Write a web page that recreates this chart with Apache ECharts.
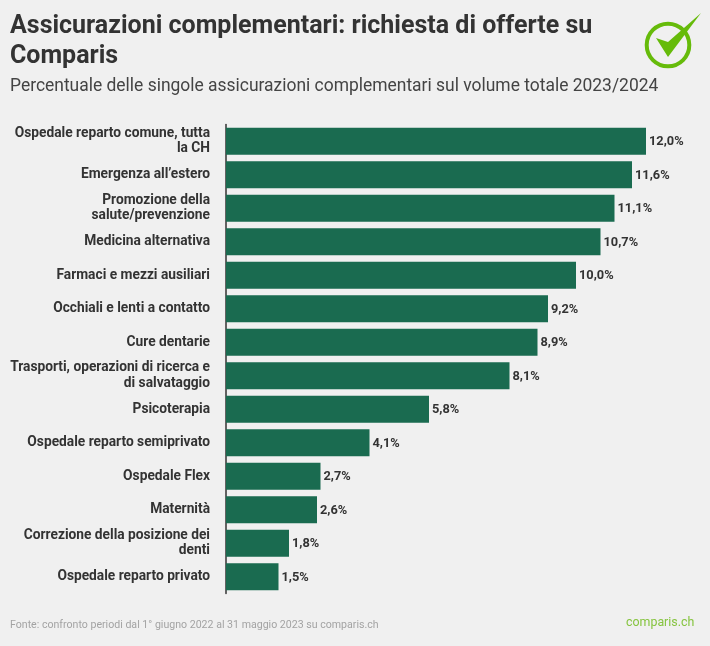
<!DOCTYPE html>
<html>
<head>
<meta charset="utf-8">
<script src="https://cdn.jsdelivr.net/npm/echarts@6/dist/echarts.min.js"></script>
<style>
html,body{margin:0;padding:0;background:#f0f0f0}
#main{width:710px;height:646px}
</style>
</head>
<body>
<div id="main"></div>
<script>
var categories = [
    'Ospedale reparto comune, tutta\nla CH',
    'Emergenza all’estero',
    'Promozione della\nsalute/prevenzione',
    'Medicina alternativa',
    'Farmaci e mezzi ausiliari',
    'Occhiali e lenti a contatto',
    'Cure dentarie',
    'Trasporti, operazioni di ricerca e\ndi salvataggio',
    'Psicoterapia',
    'Ospedale reparto semiprivato',
    'Ospedale Flex',
    'Maternità',
    'Correzione della posizione dei\ndenti',
    'Ospedale reparto privato'
]
var values = [12.0, 11.6, 11.1, 10.7, 10.0, 9.2, 8.9, 8.1, 5.8, 4.1, 2.7, 2.6, 1.8, 1.5]

var chart = echarts.init(document.getElementById('main'))
chart.setOption({
    backgroundColor: '#f0f0f0',
    animation: false,
    textStyle: { fontFamily: 'Roboto' },
    grid: { left: 226, top: 124.5, width: 437.5, height: 469 },
    xAxis: { type: 'value', min: 0, max: 12.5, show: false },
    yAxis: {
        type: 'category',
        inverse: true,
        data: categories,
        axisTick: { show: false },
        axisLine: { lineStyle: { color: '#333333', width: 1.5 } },
        axisLabel: {
            color: '#333333',
            fontSize: 13.75,
            fontWeight: 700,
            lineHeight: 15.5,
            align: 'right',
            padding: [2, 0, 0, 0],
            margin: 16
        }
    },
    series: [{
        type: 'bar',
        data: values,
        barWidth: 27,
        itemStyle: { color: '#1a6b50' },
        label: {
            show: true,
            position: 'right',
            distance: 3,
            offset: [0, 1],
            color: '#333333',
            fontSize: 12.8,
            fontWeight: 700,
            formatter: function (p) { return p.value.toFixed(1).replace('.', ',') + '%' }
        }
    }],
    graphic: [
        { type: 'text', left: 10, top: 12, style: { text: 'Assicurazioni complementari: richiesta di offerte su\nComparis', fill: '#333333', font: '700 25px Roboto', lineHeight: 30 } },
        { type: 'text', left: 10, top: 78, style: { text: 'Percentuale delle singole assicurazioni complementari sul volume totale 2023/2024', fill: '#444444', font: '400 17.45px Roboto' } },
        { type: 'text', left: 10, top: 620, style: { text: 'Fonte: confronto periodi dal 1° giugno 2022 al 31 maggio 2023 su comparis.ch', fill: '#a3a3a3', font: '400 10.6px Roboto' } },
        { type: 'text', left: 626, top: 617, style: { text: 'comparis.ch', fill: '#86c440', font: '400 12.4px Roboto' } },
        { type: 'circle', shape: { cx: 668, cy: 45, r: 21.3 }, style: { fill: 'none', stroke: '#66bb0a', lineWidth: 4 } },
        { type: 'polygon', shape: { points: [[656, 38], [668, 42], [701, 13], [668, 57]] }, style: { fill: '#66bb0a' } }
    ]
})
</script>
</body>
</html>
